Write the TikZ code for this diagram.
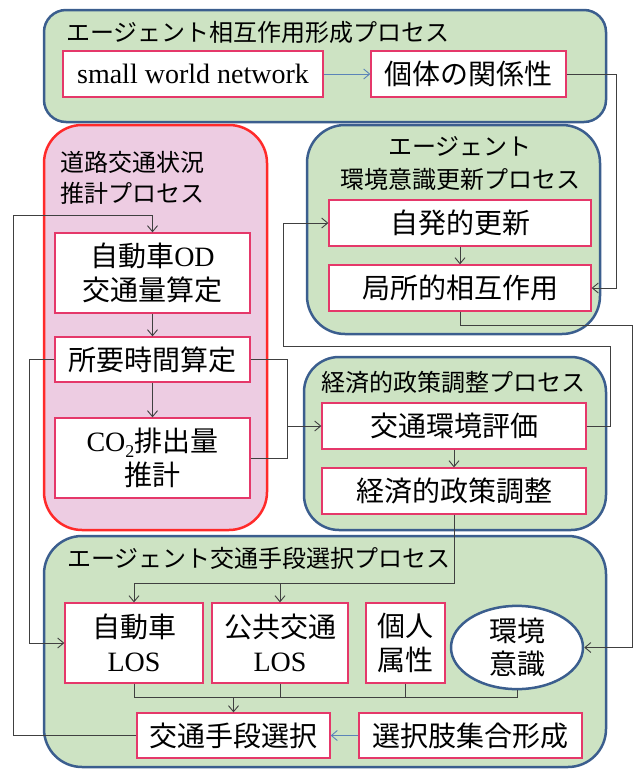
\documentclass[tikz,border=0pt]{standalone}
\usepackage{fontspec}
\setmainfont{Liberation Serif}
\newfontfamily\jp{Noto Sans CJK JP}
\usetikzlibrary{arrows.meta,shapes.geometric}
\definecolor{grpfill}{HTML}{CDE3C3}
\definecolor{grpline}{HTML}{3B5E8E}
\definecolor{redfill}{HTML}{EDCCE2}
\definecolor{redline}{HTML}{FF2A2A}
\definecolor{boxline}{HTML}{E5386A}
\definecolor{conn}{HTML}{404040}
\definecolor{blueconn}{HTML}{5B84B8}
\begin{document}
\begin{tikzpicture}[x=1pt,y=-1pt,
  grp/.style={draw=grpline, fill=grpfill, line width=2.5pt, rounded corners=#1, inner sep=0pt, rectangle},
  redgrp/.style={draw=redline, fill=redfill, line width=2.5pt, rounded corners=#1, inner sep=0pt, rectangle},
  boxn/.style={draw=boxline, fill=white, line width=1.3pt, inner sep=0pt, rectangle, align=center,
    font=\fontsize{28}{34}\selectfont},
  ell/.style={draw=grpline, fill=white, line width=2.5pt, inner sep=0pt, ellipse, align=center,
    font=\fontsize{28}{33}\selectfont},
  ttl/.style={inner sep=0pt, font=\jp\fontsize{24}{31}\selectfont},
  arr/.style={draw=conn, line width=0.9pt, -{Straight Barb[length=6pt,width=10pt]}},
  ln/.style={draw=conn, line width=0.9pt},
  barr/.style={draw=blueconn, line width=0.9pt, -{Straight Barb[length=6pt,width=10pt]}}
]
\useasboundingbox (0,0) rectangle (633,769);

% groups
\node[grp=22, minimum width=562, minimum height=112] (g1) at (325,66) {};
\node[redgrp=38, minimum width=223, minimum height=405] (g2) at (155.5,327.5) {};
\node[grp=38, minimum width=293, minimum height=209] (g3) at (453.5,229.5) {};
\node[grp=35, minimum width=302, minimum height=173] (g4) at (455,443.5) {};
\node[grp=38, minimum width=562, minimum height=231] (g5) at (325,651.5) {};

% titles
\node[ttl, anchor=west] (t1) at (66,32) {エージェント相互作用形成プロセス};
\node[ttl, anchor=west, align=left] (t2) at (60,177.5) {道路交通状況\\推計プロセス};
\node[ttl, align=center, font=\jp\fontsize{24}{33}\selectfont] (t3) at (460,163.5) {エージェント\\環境意識更新プロセス};
\node[ttl] (t4) at (453,382) {経済的政策調整プロセス};
\node[ttl, anchor=west] (t5) at (67,558) {エージェント交通手段選択プロセス};

% boxes
\node[boxn, minimum width=260, minimum height=46] (sw) at (193,74) {small world network};
\node[boxn, minimum width=195, minimum height=46] (kotai) at (468.5,74) {\jp 個体の関係性};
\node[boxn, minimum width=195, minimum height=80] (od) at (152.5,273) {{\jp 自動車}OD\\{\jp 交通量算定}};
\node[boxn, minimum width=195, minimum height=45] (shoyo) at (152.5,359.5) {\jp 所要時間算定};
\node[boxn, minimum width=195, minimum height=80] (co2) at (152.5,458) {CO\raisebox{-0.22em}{\fontsize{18}{18}\selectfont 2}{\jp 排出量}\\{\jp 推計}};
\node[boxn, minimum width=262, minimum height=46] (jihatsu) at (460,223) {\jp 自発的更新};
\node[boxn, minimum width=262, minimum height=46] (kyoku) at (460,288) {\jp 局所的相互作用};
\node[boxn, minimum width=264, minimum height=46] (hyoka) at (454,426) {\jp 交通環境評価};
\node[boxn, minimum width=264, minimum height=46] (seisaku) at (454,491) {\jp 経済的政策調整};
\node[boxn, minimum width=138, minimum height=80] (carlos) at (134,643) {{\jp 自動車}\\LOS};
\node[boxn, minimum width=136, minimum height=80] (publos) at (280,643) {{\jp 公共交通}\\LOS};
\node[boxn, minimum width=79, minimum height=80] (kojin) at (405.5,643) {{\jp 個人}\\{\jp 属性}};
\node[ell, minimum width=132, minimum height=69] (ishiki) at (517,647.5) {{\jp 環境}\\{\jp 意識}};
\node[boxn, minimum width=193, minimum height=45] (sentaku) at (233.5,735.5) {\jp 交通手段選択};
\node[boxn, minimum width=223, minimum height=45] (shugo) at (470.5,735.5) {\jp 選択肢集合形成};

% connector corner points
\coordinate (c1) at (616,74);
\coordinate (l1) at (13,215);
\coordinate (l2) at (29,359.5);
\coordinate (m1) at (287,426);
\coordinate (r1) at (610,346);
\coordinate (r2) at (283,346);
\coordinate (r3) at (632,325);
\coordinate (b1) at (134,583);
\coordinate (b2) at (280,583);
\coordinate (b3) at (233.5,697);

% connectors
\draw[barr] (sw) -- (kotai);
\draw[arr] (kotai.east) -- (c1) |- (kyoku.east);
\draw[arr] (od) -- (shoyo);
\draw[arr] (shoyo) -- (co2);
\draw[arr] (jihatsu) -- (kyoku);
\draw[arr] (hyoka) -- (seisaku);
\draw[arr] (sentaku.west) -| (l1) -| (od.north);
\draw[arr] (shoyo.west) -- (l2) |- (carlos.west);
\draw[ln] (shoyo.east) -| (m1);
\draw[ln] (co2.east) -| (m1);
\draw[arr] (m1) -- (hyoka.west);
\draw[arr] (hyoka.east) -| (r1) -- (r2) |- (jihatsu.west);
\draw[arr] (kyoku.south) |- (r3) |- (ishiki.east);
\draw[arr] (seisaku.south) |- (b1) -- (carlos.north);
\draw[arr] (b2) -- (publos.north);
\draw[ln] (carlos.south) |- (b3);
\draw[ln] (publos.south) |- (b3);
\draw[ln] (kojin.south) |- (b3);
\draw[ln] (ishiki.south) |- (b3);
\draw[arr] (b3) -- (sentaku.north);
\draw[barr] (shugo) -- (sentaku);
\end{tikzpicture}
\end{document}
